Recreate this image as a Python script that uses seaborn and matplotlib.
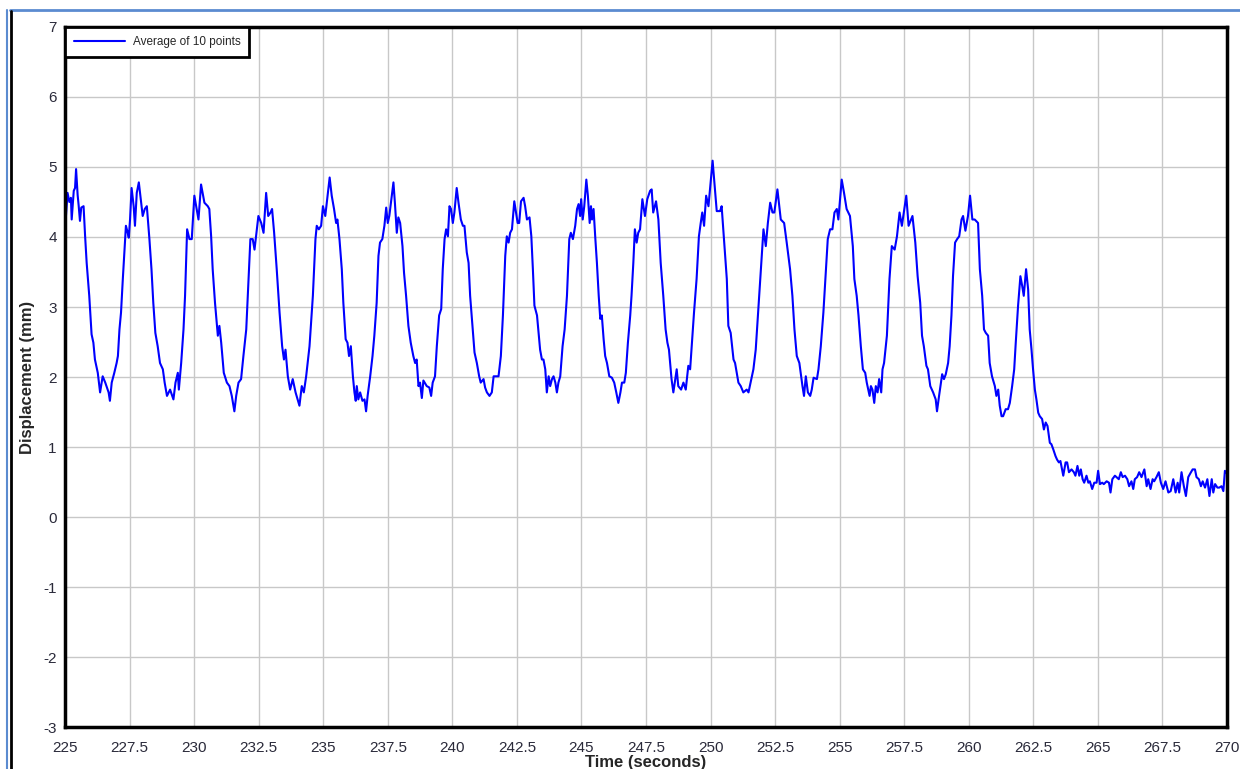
import matplotlib
matplotlib.use("Agg")
import matplotlib.pyplot as plt
from matplotlib.lines import Line2D
import seaborn as sns
import numpy as np

# Valores (tempo em segundos, deslocamento em mm)
time_s = [
    225.00, 225.10, 225.17, 225.23, 225.26, 225.34, 225.39, 225.43, 225.49, 225.53,
    225.58, 225.63, 225.72, 225.78, 225.84, 225.94, 226.03, 226.10, 226.16, 226.27,
    226.36, 226.46, 226.56, 226.69, 226.74, 226.81, 226.91, 227.00, 227.05, 227.11,
    227.17, 227.24, 227.33, 227.36, 227.43, 227.47, 227.52, 227.58, 227.66, 227.71,
    227.78, 227.86, 227.92, 228.01, 228.09, 228.17, 228.27, 228.35, 228.42, 228.50,
    228.59, 228.68, 228.79, 228.86, 228.95, 229.07, 229.20, 229.28, 229.37, 229.41,
    229.50, 229.59, 229.65, 229.73, 229.82, 229.91, 230.01, 230.10, 230.17, 230.27,
    230.40, 230.53, 230.59, 230.66, 230.72, 230.81, 230.92, 230.98, 231.05, 231.15,
    231.27, 231.37, 231.46, 231.56, 231.63, 231.72, 231.82, 231.91, 232.02, 232.11,
    232.18, 232.27, 232.34, 232.40, 232.49, 232.60, 232.69, 232.79, 232.87, 232.96,
    233.02, 233.10, 233.20, 233.31, 233.41, 233.48, 233.54, 233.63, 233.72, 233.82,
    233.93, 234.08, 234.17, 234.25, 234.34, 234.47, 234.60, 234.70, 234.75, 234.83,
    234.92, 234.99, 235.08, 235.25, 235.33, 235.42, 235.50, 235.55, 235.63, 235.72,
    235.78, 235.87, 235.94, 236.00, 236.07, 236.15, 236.21, 236.26, 236.30, 236.36,
    236.43, 236.52, 236.60, 236.66, 236.72, 236.82, 236.91, 236.98, 237.07, 237.14,
    237.20, 237.29, 237.37, 237.44, 237.50, 237.56, 237.63, 237.72, 237.78, 237.85,
    237.91, 237.98, 238.07, 238.13, 238.21, 238.30, 238.39, 238.49, 238.56, 238.62,
    238.69, 238.75, 238.82, 238.88, 239.01, 239.11, 239.18, 239.24, 239.33, 239.40,
    239.49, 239.57, 239.63, 239.70, 239.76, 239.83, 239.89, 239.95, 240.02, 240.08,
    240.17, 240.24, 240.33, 240.41, 240.47, 240.56, 240.63, 240.69, 240.79, 240.86,
    240.95, 241.04, 241.10, 241.21, 241.27, 241.34, 241.44, 241.53, 241.60, 241.69,
    241.79, 241.88, 241.96, 242.05, 242.11, 242.18, 242.24, 242.31, 242.40, 242.46,
    242.53, 242.59, 242.66, 242.76, 242.82, 242.89, 242.99, 243.06, 243.12, 243.18,
    243.28, 243.34, 243.40, 243.47, 243.53, 243.60, 243.66, 243.73, 243.79, 243.86,
    243.92, 243.99, 244.05, 244.11, 244.18, 244.27, 244.35, 244.44, 244.53, 244.59,
    244.67, 244.76, 244.83, 244.89, 244.95, 244.99, 245.05, 245.11, 245.19, 245.25,
    245.32, 245.37, 245.41, 245.47, 245.54, 245.60, 245.67, 245.73, 245.79, 245.86,
    245.92, 245.99, 246.08, 246.18, 246.27, 246.35, 246.43, 246.51, 246.57, 246.66,
    246.72, 246.80, 246.89, 246.94, 247.01, 247.07, 247.14, 247.20, 247.27, 247.36,
    247.46, 247.55, 247.66, 247.72, 247.78, 247.89, 247.98, 248.07, 248.17, 248.26,
    248.33, 248.39, 248.49, 248.56, 248.69, 248.75, 248.86, 248.95, 249.04, 249.14,
    249.21, 249.27, 249.36, 249.46, 249.55, 249.62, 249.68, 249.75, 249.83, 249.92,
    250.08, 250.17, 250.24, 250.37, 250.43, 250.52, 250.63, 250.69, 250.78, 250.89,
    250.95, 251.08, 251.17, 251.27, 251.40, 251.47, 251.60, 251.66, 251.75, 251.85,
    251.96, 252.05, 252.14, 252.22, 252.31, 252.40, 252.47, 252.59, 252.72, 252.85,
    252.95, 253.08, 253.17, 253.25, 253.34, 253.44, 253.56, 253.62, 253.69, 253.77,
    253.86, 253.92, 253.99, 254.12, 254.18, 254.27, 254.37, 254.46, 254.54, 254.63,
    254.72, 254.80, 254.89, 254.95, 255.08, 255.17, 255.27, 255.40, 255.51, 255.57,
    255.66, 255.73, 255.82, 255.90, 255.99, 256.05, 256.16, 256.21, 256.27, 256.34,
    256.40, 256.47, 256.53, 256.61, 256.66, 256.72, 256.83, 256.93, 257.02, 257.13,
    257.22, 257.32, 257.41, 257.58, 257.67, 257.82, 257.93, 258.02, 258.12, 258.19,
    258.26, 258.36, 258.42, 258.51, 258.62, 258.72, 258.77, 258.85, 258.97, 259.04,
    259.11, 259.20, 259.26, 259.33, 259.39, 259.47, 259.55, 259.63, 259.72, 259.78,
    259.87, 259.97, 260.05, 260.14, 260.23, 260.36, 260.43, 260.52, 260.59, 260.66,
    260.75, 260.81, 260.90, 261.01, 261.07, 261.14, 261.20, 261.27, 261.33, 261.43,
    261.52, 261.59, 261.68, 261.76, 261.82, 261.91, 262.00, 262.07, 262.13, 262.22,
    262.30, 262.36, 262.43, 262.49, 262.56, 262.62, 262.69, 262.75, 262.84, 262.91,
    262.98, 263.05, 263.14, 263.20, 263.27, 263.36, 263.42, 263.49, 263.55, 263.66,
    263.75, 263.81, 263.88, 263.98, 264.07, 264.13, 264.21, 264.28, 264.34, 264.41,
    264.47, 264.56, 264.63, 264.69, 264.78, 264.86, 264.95, 265.01, 265.08, 265.17,
    265.23, 265.34, 265.43, 265.49, 265.56, 265.66, 265.72, 265.81, 265.89, 265.96,
    266.05, 266.14, 266.21, 266.30, 266.37, 266.43, 266.52, 266.60, 266.69, 266.80,
    266.89, 266.95, 267.04, 267.12, 267.18, 267.27, 267.36, 267.44, 267.53, 267.62,
    267.73, 267.82, 267.92, 268.01, 268.09, 268.15, 268.24, 268.33, 268.41, 268.50,
    268.59, 268.67, 268.76, 268.82, 268.91, 268.99, 269.06, 269.15, 269.24, 269.32,
    269.41, 269.47, 269.54, 269.63, 269.70, 269.79, 269.86, 269.92, 270.00,
]

disp_mm = [
    4.10, 4.63, 4.50, 4.56, 4.25, 4.66, 4.70, 4.97, 4.60, 4.45,
    4.23, 4.42, 4.44, 4.01, 3.63, 3.16, 2.61, 2.49, 2.25, 2.06,
    1.78, 2.01, 1.92, 1.78, 1.66, 1.92, 2.06, 2.20, 2.30, 2.68,
    2.92, 3.40, 3.97, 4.16, 4.06, 3.99, 4.25, 4.70, 4.44, 4.16,
    4.63, 4.78, 4.59, 4.30, 4.40, 4.44, 3.97, 3.54, 3.06, 2.63,
    2.44, 2.20, 2.11, 1.92, 1.73, 1.82, 1.68, 1.92, 2.06, 1.82,
    2.20, 2.68, 3.16, 4.11, 3.97, 3.97, 4.59, 4.40, 4.25, 4.75,
    4.49, 4.44, 4.40, 4.01, 3.54, 3.06, 2.59, 2.73, 2.49, 2.06,
    1.92, 1.87, 1.73, 1.51, 1.73, 1.92, 1.97, 2.30, 2.68, 3.40,
    3.97, 3.97, 3.82, 4.01, 4.30, 4.20, 4.06, 4.63, 4.30, 4.35,
    4.40, 4.06, 3.54, 2.92, 2.44, 2.25, 2.39, 2.01, 1.82, 1.97,
    1.78, 1.59, 1.87, 1.78, 2.01, 2.44, 3.16, 3.97, 4.16, 4.11,
    4.16, 4.44, 4.30, 4.85, 4.59, 4.40, 4.20, 4.25, 3.97, 3.54,
    3.06, 2.54, 2.49, 2.30, 2.44, 2.01, 1.78, 1.66, 1.87, 1.68,
    1.78, 1.66, 1.68, 1.51, 1.73, 2.01, 2.30, 2.59, 3.06, 3.73,
    3.92, 3.97, 4.16, 4.42, 4.20, 4.30, 4.51, 4.78, 4.47, 4.06,
    4.28, 4.20, 3.87, 3.49, 3.16, 2.73, 2.49, 2.30, 2.20, 2.25,
    1.87, 1.92, 1.70, 1.95, 1.87, 1.85, 1.73, 1.92, 2.01, 2.44,
    2.88, 2.97, 3.54, 3.97, 4.11, 4.01, 4.44, 4.40, 4.20, 4.35,
    4.70, 4.49, 4.25, 4.16, 4.16, 3.78, 3.63, 3.16, 2.68, 2.35,
    2.20, 2.01, 1.92, 1.97, 1.85, 1.78, 1.73, 1.78, 2.01, 2.01,
    2.01, 2.30, 2.88, 3.73, 4.01, 3.92, 4.06, 4.11, 4.51, 4.37,
    4.20, 4.20, 4.51, 4.56, 4.44, 4.25, 4.28, 4.01, 3.54, 3.02,
    2.88, 2.63, 2.39, 2.25, 2.25, 2.11, 1.78, 2.01, 1.87, 1.97,
    2.01, 1.92, 1.78, 1.92, 2.01, 2.44, 2.68, 3.16, 3.97, 4.06,
    3.97, 4.16, 4.40, 4.47, 4.30, 4.54, 4.25, 4.44, 4.82, 4.59,
    4.20, 4.44, 4.25, 4.40, 3.97, 3.63, 3.16, 2.83, 2.88, 2.54,
    2.30, 2.20, 2.01, 1.99, 1.92, 1.78, 1.63, 1.78, 1.92, 1.92,
    2.06, 2.49, 2.88, 3.16, 3.63, 4.11, 3.92, 4.06, 4.11, 4.54,
    4.30, 4.54, 4.66, 4.68, 4.35, 4.51, 4.25, 3.63, 3.16, 2.68,
    2.49, 2.39, 1.97, 1.78, 2.11, 1.87, 1.82, 1.92, 1.82, 2.16,
    2.11, 2.44, 2.92, 3.40, 4.01, 4.20, 4.35, 4.16, 4.59, 4.44,
    5.09, 4.68, 4.37, 4.37, 4.44, 3.97, 3.40, 2.73, 2.63, 2.25,
    2.20, 1.92, 1.87, 1.78, 1.82, 1.78, 2.01, 2.11, 2.39, 2.97,
    3.63, 4.11, 3.87, 4.20, 4.49, 4.35, 4.35, 4.68, 4.25, 4.20,
    3.92, 3.54, 3.16, 2.68, 2.30, 2.20, 1.87, 1.73, 2.01, 1.78,
    1.73, 1.82, 1.99, 1.97, 2.11, 2.44, 2.92, 3.49, 3.97, 4.11,
    4.11, 4.35, 4.40, 4.25, 4.82, 4.63, 4.40, 4.30, 3.87, 3.40,
    3.16, 2.88, 2.44, 2.11, 2.06, 1.92, 1.73, 1.87, 1.82, 1.63,
    1.87, 1.78, 1.97, 1.78, 2.11, 2.20, 2.59, 3.40, 3.87, 3.82,
    4.01, 4.35, 4.16, 4.59, 4.16, 4.30, 3.92, 3.44, 3.06, 2.59,
    2.44, 2.16, 2.11, 1.87, 1.78, 1.68, 1.51, 1.73, 2.04, 1.97,
    2.04, 2.20, 2.44, 2.88, 3.44, 3.92, 3.97, 4.01, 4.25, 4.30,
    4.09, 4.30, 4.59, 4.25, 4.25, 4.20, 3.54, 3.16, 2.68, 2.63,
    2.59, 2.20, 2.01, 1.87, 1.73, 1.82, 1.59, 1.44, 1.44, 1.54,
    1.54, 1.63, 1.87, 2.11, 2.49, 3.02, 3.44, 3.30, 3.16, 3.54,
    3.25, 2.68, 2.39, 2.11, 1.82, 1.68, 1.49, 1.44, 1.40, 1.25,
    1.35, 1.30, 1.06, 1.04, 0.97, 0.87, 0.82, 0.78, 0.80, 0.59,
    0.78, 0.78, 0.64, 0.68, 0.64, 0.59, 0.73, 0.59, 0.68, 0.54,
    0.49, 0.59, 0.49, 0.51, 0.40, 0.49, 0.49, 0.66, 0.47, 0.49,
    0.47, 0.51, 0.49, 0.35, 0.54, 0.59, 0.57, 0.54, 0.64, 0.57,
    0.59, 0.54, 0.44, 0.51, 0.40, 0.54, 0.57, 0.64, 0.57, 0.68,
    0.44, 0.54, 0.40, 0.54, 0.51, 0.57, 0.64, 0.49, 0.40, 0.51,
    0.35, 0.37, 0.54, 0.35, 0.49, 0.35, 0.64, 0.44, 0.30, 0.57,
    0.63, 0.68, 0.68, 0.57, 0.54, 0.44, 0.51, 0.42, 0.54, 0.30,
    0.54, 0.35, 0.47, 0.42, 0.42, 0.44, 0.37, 0.66, 0.62,
]

legenda = "Average of 10 points"
x_ticks = [225, 227.5, 230, 232.5, 235, 237.5, 240, 242.5, 245, 247.5,
           250, 252.5, 255, 257.5, 260, 262.5, 265, 267.5, 270]
x_labels = ["225", "227.5", "230", "232.5", "235", "237.5", "240", "242.5", "245", "247.5",
            "250", "252.5", "255", "257.5", "260", "262.5", "265", "267.5", "270"]
y_ticks = [-3, -2, -1, 0, 1, 2, 3, 4, 5, 6, 7]

sns.set_style("whitegrid", {"grid.color": "#c8c8c8", "axes.edgecolor": "black"})
plt.rcParams["font.family"] = ["Liberation Sans", "DejaVu Sans"]
plt.rcParams["axes.unicode_minus"] = False

fig = plt.figure(figsize=(12.4, 7.69), dpi=100)
ax = fig.add_axes([0.0524, 0.0546, 0.9371, 0.9103])

sns.lineplot(x=np.array(time_s), y=np.array(disp_mm), ax=ax, color="#0000ff",
             linewidth=1.5, label=legenda, estimator=None)

ax.set_xlim(225, 270)
ax.set_ylim(-3, 7)
ax.set_xticks(x_ticks)
ax.set_xticklabels(x_labels)
ax.set_yticks(y_ticks)
ax.tick_params(axis="both", length=0, labelsize=11, colors="#2a2a3a")
ax.tick_params(axis="x", pad=10)
ax.tick_params(axis="y", pad=6)
ax.grid(True, color="#c8c8c8", linewidth=1)

for s in ax.spines.values():
    s.set_visible(True)
    s.set_color("black")
    s.set_linewidth(2.5)

ax.set_xlabel("Time (seconds)", fontsize=12, fontweight="bold", labelpad=0)
ax.set_ylabel("Displacement (mm)", fontsize=12, fontweight="bold", labelpad=6)

leg = ax.legend(loc="upper left", borderaxespad=0, fancybox=False, framealpha=1,
                edgecolor="black", fontsize=8.5, handlelength=4.3, handletextpad=0.7,
                borderpad=0.75)
leg.get_frame().set_linewidth(2)

# moldura da janela original
fig.add_artist(Line2D([0.008, 1.0], [0.987, 0.987], color="#5b8bd0", linewidth=2))
fig.add_artist(Line2D([0.006, 0.006], [0.0, 0.987], color="#5b8bd0", linewidth=1.5))
fig.add_artist(Line2D([0.0085, 0.0085], [0.0, 0.986], color="black", linewidth=2))

plt.savefig("out.png", dpi=100)
plt.close()
